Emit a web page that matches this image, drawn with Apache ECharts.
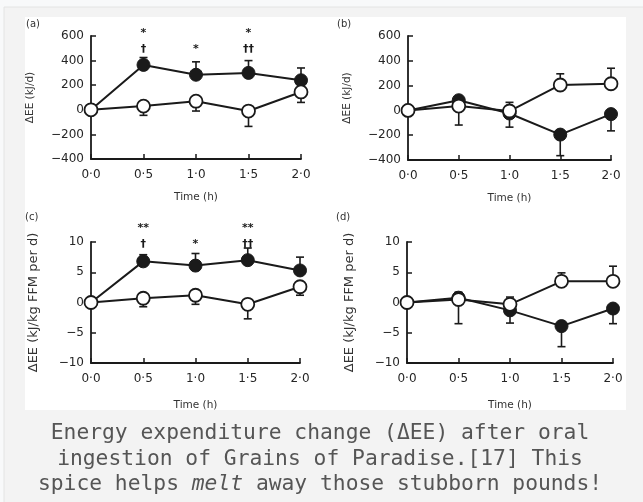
<!DOCTYPE html>
<html>
<head>
<meta charset="utf-8">
<script src="https://cdn.jsdelivr.net/npm/echarts@6/dist/echarts.min.js"></script>
<style>
html,body{margin:0;padding:0;background:#f8f9fa;}
#c{width:643px;height:502px;}
</style>
</head>
<body>
<div id="c"></div>
<script>
// ---- data ----
const times = [0, 0.5, 1.0, 1.5, 2.0];
const tickLabels = ['0·0', '0·5', '1·0', '1·5', '2·0'];

// (a) ΔEE kJ/d
const aFilled = [0, 365, 285, 300, 240];
const aFilledErr = [0, 60, 105, 100, 100];
const aOpen = [0, 30, 70, -10, 145];
const aOpenErr = [0, 75, 80, 125, 85];
// (b) ΔEE kJ/d
const bFilled = [0, 82, -25, -195, -30];
const bFilledErr = [0, 200, 110, 170, 135];
const bOpen = [0, 35, -5, 205, 215];
const bOpenErr = [0, 20, 70, 90, 125];
// (c) ΔEE kJ/kg FFM per d
const cFilled = [0, 6.8, 6.1, 7.0, 5.3];
const cFilledErr = [0, 1.1, 2.0, 2.0, 2.2];
const cOpen = [0, 0.7, 1.2, -0.3, 2.6];
const cOpenErr = [0, 1.4, 1.5, 2.4, 1.4];
// (d) ΔEE kJ/kg FFM per d
const dFilled = [0, 0.8, -1.3, -3.9, -1.0];
const dFilledErr = [0, 4.3, 2.1, 3.4, 2.5];
const dOpen = [0, 0.5, -0.3, 3.5, 3.5];
const dOpenErr = [0, 1.2, 1.2, 1.4, 2.5];

// significance marks
const aUpper = ['', '*', '', '*', ''];
const aLower = ['', '†', '*', '††', ''];
const cUpper = ['', '**', '', '**', ''];
const cLower = ['', '†', '*', '††', ''];

const panelLabels = ['(a)', '(b)', '(c)', '(d)'];
const yNames = ['ΔEE (kJ/d)', 'ΔEE (kJ/d)', 'ΔEE (kJ/kg FFM per d)', 'ΔEE (kJ/kg FFM per d)'];
const xName = 'Time (h)';
const captionLines = [
  'Energy expenditure change (ΔEE) after oral',
  'ingestion of Grains of Paradise.[17] This',
  'spice helps {i|melt} away those stubborn pounds!'
];

// ---- chart ----
const chart = echarts.init(document.getElementById('c'), null, {renderer: 'canvas'});
const INK = '#1a1a1a';
const axFont = 'DejaVu Sans';

const grids = [
  {left: 91, top: 36, width: 210, height: 123},
  {left: 408, top: 36, width: 203, height: 124},
  {left: 91, top: 242, width: 209, height: 121},
  {left: 407, top: 242, width: 206, height: 121}
];
const yRanges = [[-400, 600, 200], [-400, 600, 200], [-10, 10, 5], [-10, 10, 5]];
const yGaps = [55, 55, 51, 51];
const yNameSize = [10.5, 10.5, 13, 13];
const xGaps = [33, 33, 37, 37];

function fmtTick(v) {
  const i = times.indexOf(v);
  return i >= 0 ? tickLabels[i] : '';
}

const xAxes = grids.map((g, k) => ({
  gridIndex: k, type: 'value', min: 0, max: 2, interval: 0.5,
  name: xName, nameLocation: 'middle', nameGap: xGaps[k],
  nameTextStyle: {fontFamily: axFont, fontSize: 10.5, color: '#333'},
  axisLine: {onZero: false, lineStyle: {color: INK, width: 1.8}},
  axisTick: {inside: true, length: 5, lineStyle: {color: INK, width: 1.5}},
  axisLabel: {formatter: fmtTick, fontFamily: axFont, fontSize: 12, color: '#262626', margin: 10},
  splitLine: {show: false}
}));
const yAxes = grids.map((g, k) => ({
  gridIndex: k, type: 'value', min: yRanges[k][0], max: yRanges[k][1], interval: yRanges[k][2],
  name: yNames[k], nameLocation: 'middle', nameGap: yGaps[k], nameRotate: 90,
  nameTextStyle: {fontFamily: axFont, fontSize: yNameSize[k], color: '#333'},
  axisLine: {show: true, onZero: false, lineStyle: {color: INK, width: 1.8}},
  axisTick: {show: true, inside: true, length: 5, lineStyle: {color: INK, width: 1.5}},
  axisLabel: {formatter: v => String(v).replace('-', '−'), fontFamily: axFont, fontSize: 12, color: '#262626', margin: 7},
  splitLine: {show: false}
}));

function errSeries(k, vals, errs, dir) {
  return {
    type: 'custom', xAxisIndex: k, yAxisIndex: k, z: 2, clip: false,
    data: times.map((t, i) => [t, vals[i], errs[i], dir]),
    renderItem: function (params, api) {
      const x = api.value(0), y = api.value(1), e = api.value(2), d = api.value(3);
      if (!e) return null;
      const p0 = api.coord([x, y]);
      const p1 = api.coord([x, y + d * e]);
      const st = {stroke: INK, lineWidth: 1.6};
      return {type: 'group', children: [
        {type: 'line', shape: {x1: p0[0], y1: p0[1], x2: p1[0], y2: p1[1]}, style: st},
        {type: 'line', shape: {x1: p1[0] - 4, y1: p1[1], x2: p1[0] + 4, y2: p1[1]}, style: st}
      ]};
    }
  };
}
function lineSeries(k, vals, filled) {
  return {
    type: 'line', xAxisIndex: k, yAxisIndex: k, z: filled ? 3 : 4, clip: false,
    data: times.map((t, i) => [t, vals[i]]),
    symbol: 'circle', symbolSize: 13,
    lineStyle: {color: INK, width: 2},
    itemStyle: filled ? {color: INK, borderColor: INK, borderWidth: 1} : {color: '#ffffff', borderColor: INK, borderWidth: 1.8},
    emphasis: {disabled: true}, animation: false
  };
}
function markSeries(k, upper, lower, upOff, lowOff) {
  return {
    type: 'custom', xAxisIndex: k, yAxisIndex: k, z: 5, clip: false,
    data: times.map((t, i) => [t, i]),
    renderItem: function (params, api) {
      const i = params.dataIndex;
      const top = api.coord([api.value(0), yRanges[k][1]]);
      const kids = [];
      if (upper[i]) kids.push({type: 'text', style: {text: upper[i], x: top[0], y: top[1] + upOff, align: 'center', verticalAlign: 'middle', font: 'bold 11px ' + axFont, fill: INK}});
      if (lower[i]) kids.push({type: 'text', style: {text: lower[i], x: top[0], y: top[1] + lowOff, align: 'center', verticalAlign: 'middle', font: 'bold 11px ' + axFont, fill: INK}});
      return {type: 'group', children: kids};
    }
  };
}

const series = [
  errSeries(0, aFilled, aFilledErr, 1), errSeries(0, aOpen, aOpenErr, -1),
  lineSeries(0, aFilled, true), lineSeries(0, aOpen, false),
  markSeries(0, aUpper, aLower, -3, 13),
  errSeries(1, bFilled, bFilledErr, -1), errSeries(1, bOpen, bOpenErr, 1),
  lineSeries(1, bFilled, true), lineSeries(1, bOpen, false),
  errSeries(2, cFilled, cFilledErr, 1), errSeries(2, cOpen, cOpenErr, -1),
  lineSeries(2, cFilled, true), lineSeries(2, cOpen, false),
  markSeries(2, cUpper, cLower, -14, 2),
  errSeries(3, dFilled, dFilledErr, -1), errSeries(3, dOpen, dOpenErr, 1),
  lineSeries(3, dFilled, true), lineSeries(3, dOpen, false)
];

const labelPos = [[26, 24], [337, 24], [25, 217], [336, 217]];

chart.setOption({
  animation: false,
  backgroundColor: '#f8f9fa',
  grid: grids,
  xAxis: xAxes,
  yAxis: yAxes,
  series: series,
  graphic: [
    {type: 'rect', z: -10, shape: {x: 4, y: 7, width: 645, height: 500}, style: {fill: '#f3f3f3', stroke: '#e4e4e4', lineWidth: 1}},
    {type: 'rect', z: -9, shape: {x: 25, y: 17, width: 601, height: 393}, style: {fill: '#ffffff'}},
    ...panelLabels.map((t, i) => ({type: 'text', z: 10, style: {text: t, x: labelPos[i][0], y: labelPos[i][1], verticalAlign: 'middle', font: '10px ' + axFont, fill: '#333'}})),
    {type: 'text', z: 10, style: {
      text: captionLines.join('\n'), x: 320, y: 421, align: 'center', verticalAlign: 'top',
      font: '21.3px "DejaVu Sans Mono"', fill: '#555555', lineHeight: 25.5,
      rich: {i: {fontStyle: 'italic', fontFamily: 'DejaVu Sans Mono', fontSize: 21.3, fill: '#555555', lineHeight: 25.5}}
    }}
  ]
});
</script>
</body>
</html>
